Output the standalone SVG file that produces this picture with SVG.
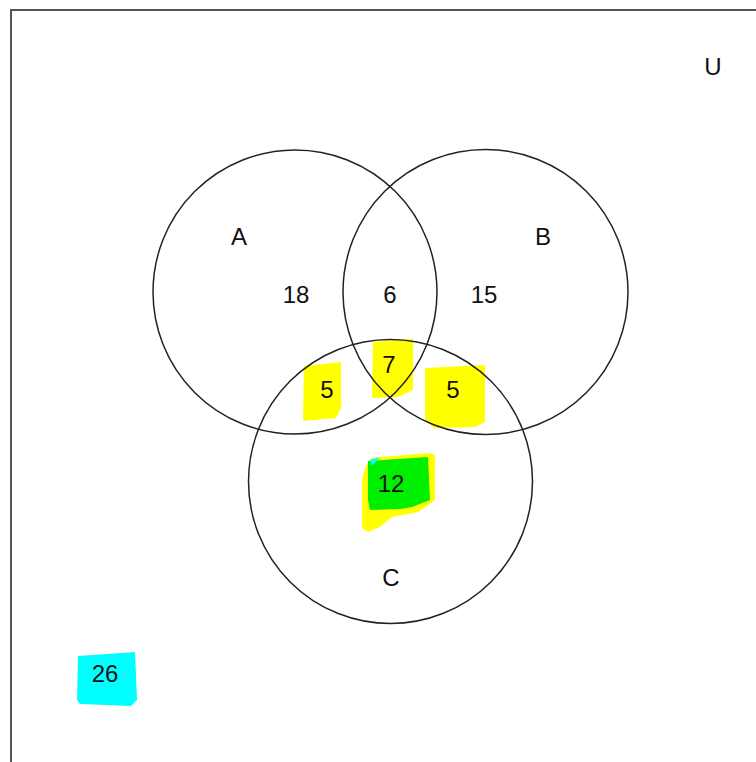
<svg xmlns="http://www.w3.org/2000/svg" width="756" height="762" viewBox="0 0 756 762">
  <style>
    .set { fill: none; stroke: #222; stroke-width: 1.5; }
    .lbl { font-family: "Liberation Sans", Arial, sans-serif; font-size: 24px; fill: #111; text-anchor: middle; }
    .hl-y { fill: #ffff00; }
    .hl-g { fill: #00ee00; }
    .hl-c { fill: #00ffff; }
  </style>
  <rect width="756" height="762" fill="#ffffff"/>
  <!-- universal set frame -->
  <g id="universe">
    <path d="M11,762 V10 H756" fill="none" stroke="#555" stroke-width="2"/>
    <text class="lbl" x="713" y="75">U</text>
  </g>
  <!-- marker highlights -->
  <g id="highlights">
    <polygon class="hl-y" points="304,366 341,362 341,408 336,418 303,421"/>
    <polygon class="hl-y" points="373,342 413,339 413,390 398,397 372,398"/>
    <polygon class="hl-y" points="425,368 485,365 485,422 475,427 434,428 425,420"/>
    <polygon class="hl-y" points="365,468 371,458 430,453 435,455 435,500 418,512 392,517 380,527 368,532 362,528 362,480"/>
    <polygon class="hl-g" points="368,461 428,457 430,500 412,507 400,509 370,510 368,500"/>
    <polygon class="hl-c" points="370,460 380,457 372,466"/>
    <polygon class="hl-c" points="78,656 135,652 137,700 131,706 80,704 77,700"/>
  </g>
  <g id="A">
    <circle class="set" cx="295" cy="292" r="142"/>
    <text class="lbl" x="239" y="245">A</text>
  </g>
  <g id="B">
    <circle class="set" cx="485.5" cy="292" r="142.5"/>
    <text class="lbl" x="543" y="245">B</text>
  </g>
  <g id="C">
    <circle class="set" cx="390.5" cy="481.5" r="142"/>
    <text class="lbl" x="391" y="586">C</text>
  </g>
  <!-- region counts -->
  <g id="counts">
    <text class="lbl" x="296" y="303">18</text>
    <text class="lbl" x="390" y="303">6</text>
    <text class="lbl" x="484" y="303">15</text>
    <text class="lbl" x="327" y="398">5</text>
    <text class="lbl" x="389" y="373">7</text>
    <text class="lbl" x="453" y="398">5</text>
    <text class="lbl" x="391" y="492">12</text>
    <text class="lbl" x="105" y="682">26</text>
  </g>
</svg>
